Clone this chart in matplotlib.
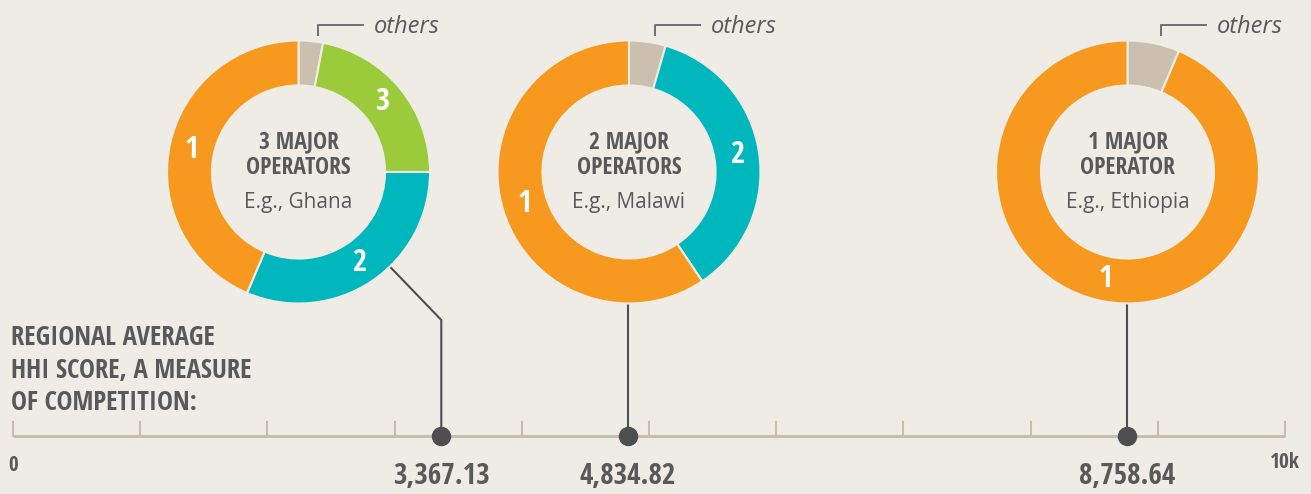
import numpy as np
import matplotlib.pyplot as plt
from matplotlib import font_manager

# data
countries = ["Ghana", "Malawi", "Ethiopia"]
titles = ["3 MAJOR\nOPERATORS", "2 MAJOR\nOPERATORS", "1 MAJOR\nOPERATOR"]
hhi = [3367.13, 4834.82, 8758.64]
hhi_labels = ["3,367.13", "4,834.82", "8,758.64"]
# shares clockwise from top: others first, then the operators
shares = [
    [3.0, 22.0, 31.4, 43.6],
    [4.5, 36.1, 59.4],
    [6.4, 93.6],
]
slice_names = [
    ["", "3", "2", "1"],
    ["", "2", "1"],
    ["", "1"],
]

bg = "#efece6"
grey = "#58595b"
dark = "#4d4e50"
tan = "#c9bead"
col = {"": "#cbc0ae", "1": "#f7991f", "2": "#00b7bd", "3": "#9bca3b"}

# look for a narrow bold face
fonts = font_manager.fontManager.ttflist
names = {f.name for f in fonts}
cond_fam = None
for n in ["Open Sans Condensed", "Roboto Condensed", "Liberation Sans Narrow",
          "Noto Sans Condensed", "DejaVu Sans Condensed"]:
    if n in names:
        cond_fam = n
        break
stretch = "normal"
if cond_fam is None:
    for f in fonts:
        if f.name in ("Open Sans", "Noto Sans", "Roboto", "DejaVu Sans") and \
                str(f.stretch) in ("condensed", "semi-condensed", "75", "87.5"):
            cond_fam = f.name
            stretch = f.stretch
            break
narrow = cond_fam is not None
if not narrow:
    cond_fam = "DejaVu Sans"
cond = [cond_fam, "DejaVu Sans"]
k = 1.0 if narrow else 0.75  # shrink text when no narrow face exists
reg = ["Open Sans", "DejaVu Sans"]

W, H = 1311, 494
fig = plt.figure(figsize=(W / 100, H / 100), dpi=100, facecolor=bg)
ax = fig.add_axes([0, 0, 1, 1])
ax.set_facecolor(bg)
scale = 0.1272  # px per HHI point
x0 = 13
ax.set_xlim(-x0 / scale, (W - x0) / scale)
ax.set_ylim(H, 0)
ax.axis("off")

def px2x(p):
    return (p - x0) / scale

def ctext(a, x, y, s, size, **kw):
    return a.text(x, y, s, fontsize=size * k, fontweight="bold", family=cond,
                  fontstretch=stretch, **kw)

# scale line
axis_y = 436
ax.plot([0, 10000], [axis_y, axis_y], color=tan, lw=2.2, solid_capstyle="butt", zorder=1)
for t in range(0, 10001, 1000):
    ax.plot([t, t], [axis_y, axis_y - 14], color=tan, lw=1.5, zorder=1)
ctext(ax, 0, 465, "0", 15, ha="center", va="center", color=grey)
ctext(ax, 10000, 462, "10k", 15.5, ha="center", va="center", color=grey)

ctext(ax, px2x(11), 370, "REGIONAL AVERAGE\nHHI SCORE, A MEASURE\nOF COMPETITION:", 19.3,
      ha="left", va="center", color=grey, linespacing=1.25)

# donuts
R = 131.5
cy = 172
centers = [298.5, 629, 1127.5]
for i in range(3):
    cx = centers[i]
    dax = fig.add_axes([(cx - R) / W, (H - cy - R) / H, 2 * R / W, 2 * R / H])
    dax.set_facecolor("none")
    wedges, texts = dax.pie(
        shares[i], colors=[col[n] for n in slice_names[i]], labels=slice_names[i],
        startangle=90, counterclock=False, radius=1, labeldistance=0.83,
        wedgeprops=dict(width=0.342, edgecolor=bg, linewidth=1.5),
        textprops=dict(color="white", fontsize=22 * k, fontweight="bold", family=cond,
                       fontstretch=stretch))
    for t in texts:
        t.set_ha("center")
        t.set_va("center")
    dax.set_xlim(-1, 1)
    dax.set_ylim(-1, 1)
    dax.set_aspect("equal")
    dax.axis("off")
    ctext(dax, 0, 0.125, titles[i], 17, ha="center", va="center", color=grey,
          linespacing=1.1)
    dax.text(0, -0.23, "E.g., " + countries[i], ha="center", va="center",
             fontsize=15, color=grey, family=reg)

    # "others" callout
    mid = np.deg2rad(90 - shares[i][0] / 100 * 360 / 2)
    bx = cx + R * np.cos(mid) + 7
    ax.plot([px2x(bx), px2x(bx), px2x(bx + 45)], [35, 25, 25], color="#6d6e70", lw=1.4)
    ax.text(px2x(bx + 56), 27, "others", ha="left", va="center", fontsize=17,
            style="italic", color=grey, family=reg)

    # connector to scale
    if abs(px2x(cx) - hhi[i]) > 50:
        a = np.deg2rad(136)
        sx = cx + R * np.sin(a)
        sy = cy - R * np.cos(a)
        ax.plot([px2x(sx), hhi[i], hhi[i]], [sy, 320, axis_y], color=dark, lw=1.5, zorder=2)
    else:
        ax.plot([hhi[i], hhi[i]], [cy + R, axis_y], color=dark, lw=1.5, zorder=2)
    ax.plot(hhi[i], axis_y, "o", color=dark, ms=13, zorder=3)
    ctext(ax, hhi[i], 476, hhi_labels[i], 21, ha="center", va="center", color=grey)

fig.savefig("out.png", dpi=100, facecolor=bg)
